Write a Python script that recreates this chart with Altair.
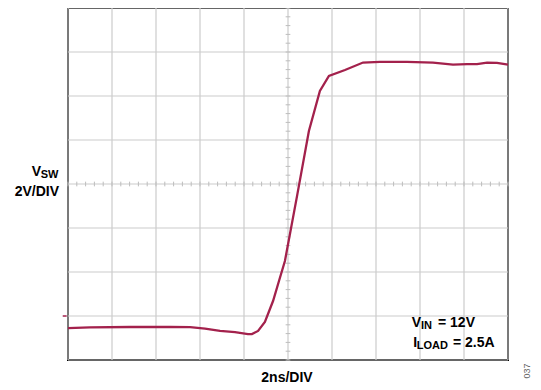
import altair as alt
import pandas as pd

# ---- data (time in ns, 2 ns/div; V_SW in volts, 2 V/div) ----
time_ns = [0.00, 1.00, 2.82, 4.64, 5.55, 6.23, 6.91, 7.59, 8.18, 8.36, 8.64, 8.95,
           9.32, 9.59, 9.86, 10.41, 10.95, 11.45, 11.86, 12.59, 13.41, 14.18, 15.41,
           16.59, 17.50, 18.14, 18.59, 19.05, 19.50, 20.00]
vsw_v = [-0.55, -0.52, -0.50, -0.50, -0.51, -0.57, -0.68, -0.73, -0.82, -0.82, -0.68, -0.27,
         0.68, 1.59, 2.50, 5.45, 8.41, 10.23, 10.91, 11.18, 11.52, 11.55, 11.55,
         11.52, 11.43, 11.45, 11.45, 11.52, 11.51, 11.43]

x_grid = [0, 2, 4, 6, 8, 10, 12, 14, 16, 18, 20]
y_grid = [-2, 0, 2, 4, 6, 8, 10, 12, 14]
x_center = 10
y_center = 6
minor_step_x = 0.4
minor_step_y = 0.4

y_label_main = "V"
y_label_sub = "SW"
y_label_scale = "2V/DIV"
x_label = "2ns/DIV"
note1_main, note1_sub, note1_rest = "V", "IN", "= 12V"
note2_main, note2_sub, note2_rest = "I", "LOAD", "= 2.5A"
fig_id = "037"

TRACE = "#A3214C"
GRID = "#cccccc"
MINOR = "#bdbdbd"
FONT = "Liberation Sans"

xs = alt.Scale(domain=[0, 20], nice=False, zero=False)
ys = alt.Scale(domain=[-2, 14], nice=False, zero=False)

trace_df = pd.DataFrame({"t": time_ns, "v": vsw_v})

n_y = int(round((y_grid[-1] - y_grid[0]) / minor_step_y))
n_x = int(round((x_grid[-1] - x_grid[0]) / minor_step_x))
minor_v = pd.DataFrame({"v": [y_grid[0] + i * minor_step_y for i in range(n_y + 1)]})
minor_v["t1"] = x_center - 0.107
minor_v["t2"] = x_center + 0.107
minor_h = pd.DataFrame({"t": [x_grid[0] + i * minor_step_x for i in range(n_x + 1)]})
minor_h["v1"] = y_center - 0.107
minor_h["v2"] = y_center + 0.107

grid_x = alt.Chart(pd.DataFrame({"t": x_grid})).mark_rule(color=GRID, strokeWidth=1.2).encode(
    x=alt.X("t:Q", scale=xs, axis=None),
)
grid_y = alt.Chart(pd.DataFrame({"v": y_grid})).mark_rule(color=GRID, strokeWidth=1.2).encode(
    y=alt.Y("v:Q", scale=ys, axis=None),
)

trace = alt.Chart(trace_df).mark_line(color=TRACE, strokeWidth=2.3).encode(
    x=alt.X("t:Q", scale=xs, axis=None),
    y=alt.Y("v:Q", scale=ys, axis=None),
)

ticks_v = alt.Chart(minor_v).mark_rule(color=MINOR, strokeWidth=1).encode(
    x=alt.X("t1:Q", scale=xs, axis=None), x2="t2:Q",
    y=alt.Y("v:Q", scale=ys, axis=None),
)
ticks_h = alt.Chart(minor_h).mark_rule(color=MINOR, strokeWidth=1).encode(
    x=alt.X("t:Q", scale=xs, axis=None),
    y=alt.Y("v1:Q", scale=ys, axis=None), y2="v2:Q",
)

ground_df = pd.DataFrame({"t1": [-0.24], "t2": [-0.06], "v": [0.0]})
ground = alt.Chart(ground_df).mark_rule(color=TRACE, strokeWidth=1.5, clip=False).encode(
    x=alt.X("t1:Q", scale=xs, axis=None), x2="t2:Q",
    y=alt.Y("v:Q", scale=ys, axis=None),
)


def label(text, x, y, size=14, align="left", angle=0, color="black", weight="bold",
          baseline="alphabetic"):
    return alt.Chart(pd.DataFrame({"s": [text]})).mark_text(
        align=align, baseline=baseline, fontSize=size, font=FONT, fontWeight=weight,
        color=color, angle=angle,
    ).encode(x=alt.value(x), y=alt.value(y), text="s:N")


texts = [
    label(y_label_main, -27, 168, 14, "right"),
    label(y_label_sub, -9.5, 170, 11, "right"),
    label(y_label_scale, -9, 187.7, 14, "right"),
    label(x_label, 219, 374, 14, "center"),
    label(note1_main, 343.7, 319.3, 14),
    label(note1_sub, 353, 321.3, 11),
    label(note1_rest, 370, 319.3, 14),
    label(note2_main, 345.3, 339.3, 14),
    label(note2_sub, 348.7, 341.3, 11),
    label(note2_rest, 385, 339.3, 14),
    label(fig_id, 459, 363, 9, "center", angle=270, color="#666666", weight="normal",
          baseline="middle"),
]

chart = alt.layer(grid_x, grid_y, ticks_v, ticks_h, trace, ground, *texts).properties(
    width=440, height=352,
    padding={"left": 60, "top": 0, "right": 25, "bottom": 24},
    autosize=alt.AutoSizeParams(type="none"),
).configure_view(stroke="black", strokeWidth=2)

chart.save("out.html", embed_options={"renderer": "svg", "actions": False})
